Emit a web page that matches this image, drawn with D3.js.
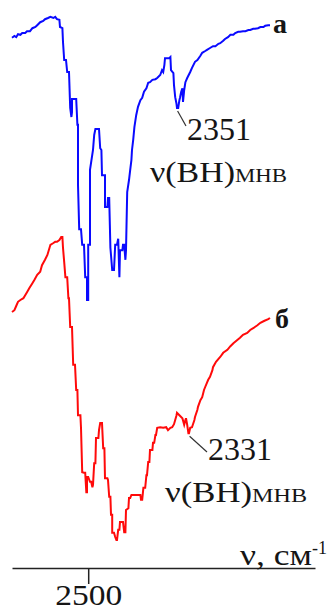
<!DOCTYPE html>
<html>
<head>
<meta charset="utf-8">
<script src="https://cdn.jsdelivr.net/npm/d3@7"></script>
<style>
  html, body { margin: 0; padding: 0; background: #fff; }
  svg { display: block; }
</style>
</head>
<body>
<svg id="chart" width="332" height="612"></svg>
<script>
// Wavenumber (cm^-1) and transmittance (arb. units)
const blueNu = [2627,2623,2620,2617,2613,2610,2605,2602,2597,2593,2588,2585,2580,2575,2572,2567,2563,2558,2555,2552,2548,2547,2543,2542,2540,2537,2535,2532,2530,2528,2527,2527,2520,2518,2517,2517,2515,2512,2510,2507,2505,2502,2502,2500,2500,2497,2497,2492,2490,2488,2482,2480,2478,2477,2472,2472,2468,2467,2465,2463,2462,2460,2457,2455,2452,2450,2448,2447,2443,2442,2440,2438,2437,2435,2432,2430,2428,2427,2425,2423,2420,2417,2413,2410,2407,2403,2400,2397,2393,2388,2385,2380,2377,2375,2373,2372,2365,2363,2362,2358,2357,2355,2353,2352,2350,2348,2347,2345,2343,2342,2340,2338,2335,2330,2327,2322,2318,2313,2310,2305,2302,2297,2292,2288,2283,2280,2275,2272,2267,2263,2258,2255,2250,2247,2242,2238,2233,2230,2225,2222,2217,2213,2208,2205,2200,2197];
const blueT  = [93.7,94.0,93.8,94.3,94.2,94.5,94.5,94.8,94.8,95.3,95.5,95.8,96.3,96.5,96.8,97.0,97.2,97.0,97.2,96.8,96.7,95.5,95.3,93.0,90.0,90.0,88.0,88.0,82.0,80.5,81.3,83.5,83.5,79.2,79.2,69.2,61.8,61.8,59.2,59.2,53.8,53.8,50.0,50.0,59.2,59.2,71.7,75.0,77.5,78.5,78.5,75.3,75.0,70.8,70.8,65.5,65.5,67.0,67.0,58.7,57.5,55.0,55.0,59.2,59.2,60.2,53.8,58.3,58.3,59.2,59.2,56.7,58.3,68.0,70.0,71.7,73.3,75.0,76.7,78.8,80.8,82.2,83.3,83.7,84.7,85.3,86.2,86.3,86.7,86.8,87.0,87.5,88.3,88.0,89.2,90.3,90.3,90.5,88.3,87.8,85.8,83.8,82.8,82.0,82.0,83.3,83.7,84.7,85.3,83.0,85.0,86.3,87.0,88.0,88.7,89.7,90.0,90.7,91.2,91.5,91.7,92.0,92.3,92.3,92.7,92.8,93.2,93.5,93.8,94.2,94.2,94.5,94.7,94.7,94.8,94.8,95.0,95.0,95.2,95.2,95.3,95.5,95.5,95.7,95.8,95.8];

const redNu = [2627,2623,2620,2617,2613,2608,2605,2602,2598,2593,2590,2585,2580,2577,2572,2568,2563,2558,2555,2552,2548,2545,2543,2542,2540,2538,2535,2533,2532,2530,2527,2525,2522,2520,2518,2517,2513,2512,2510,2507,2505,2503,2503,2502,2502,2500,2497,2495,2493,2492,2490,2488,2487,2483,2482,2480,2477,2475,2473,2472,2468,2467,2465,2463,2462,2460,2460,2457,2455,2453,2452,2450,2448,2447,2442,2440,2438,2437,2433,2432,2430,2428,2413,2412,2410,2408,2405,2403,2402,2400,2398,2397,2393,2392,2390,2388,2387,2385,2380,2375,2370,2367,2363,2360,2357,2355,2353,2352,2348,2343,2340,2338,2337,2335,2333,2332,2330,2327,2323,2322,2318,2317,2313,2310,2307,2305,2300,2297,2293,2292,2287,2280,2275,2268,2263,2258,2252,2247,2242,2235,2230,2225,2218,2213,2207,2200,2197];
const redT  = [48.0,48.3,49.0,49.7,50.0,50.3,50.8,51.3,52.0,52.8,53.3,54.2,54.7,55.8,56.7,57.5,59.2,59.5,59.7,59.7,60.0,60.5,60.5,58.7,56.3,53.8,53.8,50.3,50.3,45.5,45.5,39.2,39.2,35.0,35.0,30.8,30.8,28.7,21.3,21.2,21.2,17.8,20.3,17.8,20.5,20.5,19.7,19.7,18.8,19.2,22.8,22.8,27.0,27.0,28.3,29.5,29.5,25.3,25.3,20.3,20.3,20.0,17.2,17.2,14.2,14.2,11.2,11.2,10.5,10.0,10.0,11.7,11.7,13.0,13.0,11.3,11.3,15.0,15.3,17.0,17.0,17.5,17.5,16.7,16.7,18.7,18.7,20.8,20.8,23.0,23.0,25.0,25.0,26.2,26.2,27.5,27.5,28.7,28.8,28.7,28.8,28.3,28.7,28.8,29.3,30.0,30.7,31.2,30.8,30.3,29.2,30.0,30.3,29.2,27.8,27.8,28.7,28.8,30.0,30.5,31.7,32.2,33.3,33.8,35.0,35.5,36.7,37.2,38.3,38.8,39.7,40.5,41.2,41.7,42.3,42.8,43.3,43.7,44.2,44.5,45.0,45.3,45.8,46.2,46.5,46.8,47.0];

const xTicks = [2500];
const curveLabels = ["а", "б"];
const peakLabels = ["2351", "2331"];
const peakNu = [2351, 2331];
const peakT = [82.0, 27.8];
const assignMain = "ν(BH)";
const assignSub = "МНВ";
const axisTitle = "ν, см";
const axisTitleSup = "-1";

const FONT = "'Liberation Serif', Tinos, serif";
const INK = "#151515";
const svg = d3.select("#chart");
const x = d3.scaleLinear().domain([2627, 2122]).range([12, 315]);
const y = d3.scaleLinear().domain([0, 100]).range([600, 0]);
const axisY = 568;

function txt(sel, px) {
  return sel.style("font-family", FONT).style("font-size", px + "px").style("fill", INK);
}

const line = d3.line().x(d => x(d[0])).y(d => y(d[1]));
const blue = blueNu.map((v, i) => [v, blueT[i]]);
const red = redNu.map((v, i) => [v, redT[i]]);

svg.append("path").datum(blue).attr("d", line)
  .attr("fill", "none").attr("stroke", "#0a0aff").attr("stroke-width", 2);
svg.append("path").datum(red).attr("d", line)
  .attr("fill", "none").attr("stroke", "#ff0a0a").attr("stroke-width", 2);

// axis
const ax = svg.append("g").attr("transform", `translate(0,${axisY})`)
  .call(d3.axisBottom(x).tickValues(xTicks).tickSize(16).tickSizeOuter(0).tickPadding(0).tickFormat(d3.format("d")));
ax.select(".domain").attr("stroke", "#222").attr("stroke-width", 1.5);
ax.selectAll(".tick line").attr("stroke", "#222").attr("stroke-width", 1.5);
txt(ax.selectAll(".tick text"), 30).attr("textLength", 67).attr("lengthAdjust", "spacingAndGlyphs");

const t = txt(svg.append("text").attr("x", 240).attr("y", 565), 30);
t.append("tspan").attr("textLength", 72).attr("lengthAdjust", "spacingAndGlyphs").text(axisTitle);
t.append("tspan").style("font-size", "18px").attr("dy", -11).text(axisTitleSup);

// curve labels
txt(svg.append("text").attr("x", 273).attr("y", 33), 28).style("font-weight", "bold").text(curveLabels[0]);
txt(svg.append("text").attr("x", 275).attr("y", 328), 28).style("font-weight", "bold").text(curveLabels[1]);

// peak annotations
const ann = [
  {lx: 187, ly: 140, ax: 150, ay: 182, ex: 186, ey: 126, mainLen: 85, subLen: 52},
  {lx: 208, ly: 460, ax: 165, ay: 502, ex: 207, ey: 452, mainLen: 87, subLen: 55}
];
ann.forEach((a, i) => {
  svg.append("line").attr("x1", x(peakNu[i])).attr("y1", y(peakT[i]) + 3).attr("x2", a.ex).attr("y2", a.ey)
    .attr("stroke", "#333").attr("stroke-width", 1.2);
  txt(svg.append("text").attr("x", a.lx).attr("y", a.ly), 32).attr("textLength", 64).attr("lengthAdjust", "spacingAndGlyphs").text(peakLabels[i]);
  const s = txt(svg.append("text").attr("x", a.ax).attr("y", a.ay), 29);
  s.append("tspan").attr("textLength", a.mainLen).attr("lengthAdjust", "spacingAndGlyphs").text(assignMain);
  s.append("tspan").style("font-size", "18px").attr("textLength", a.subLen).attr("lengthAdjust", "spacingAndGlyphs").text(assignSub);
});
</script>
</body>
</html>
